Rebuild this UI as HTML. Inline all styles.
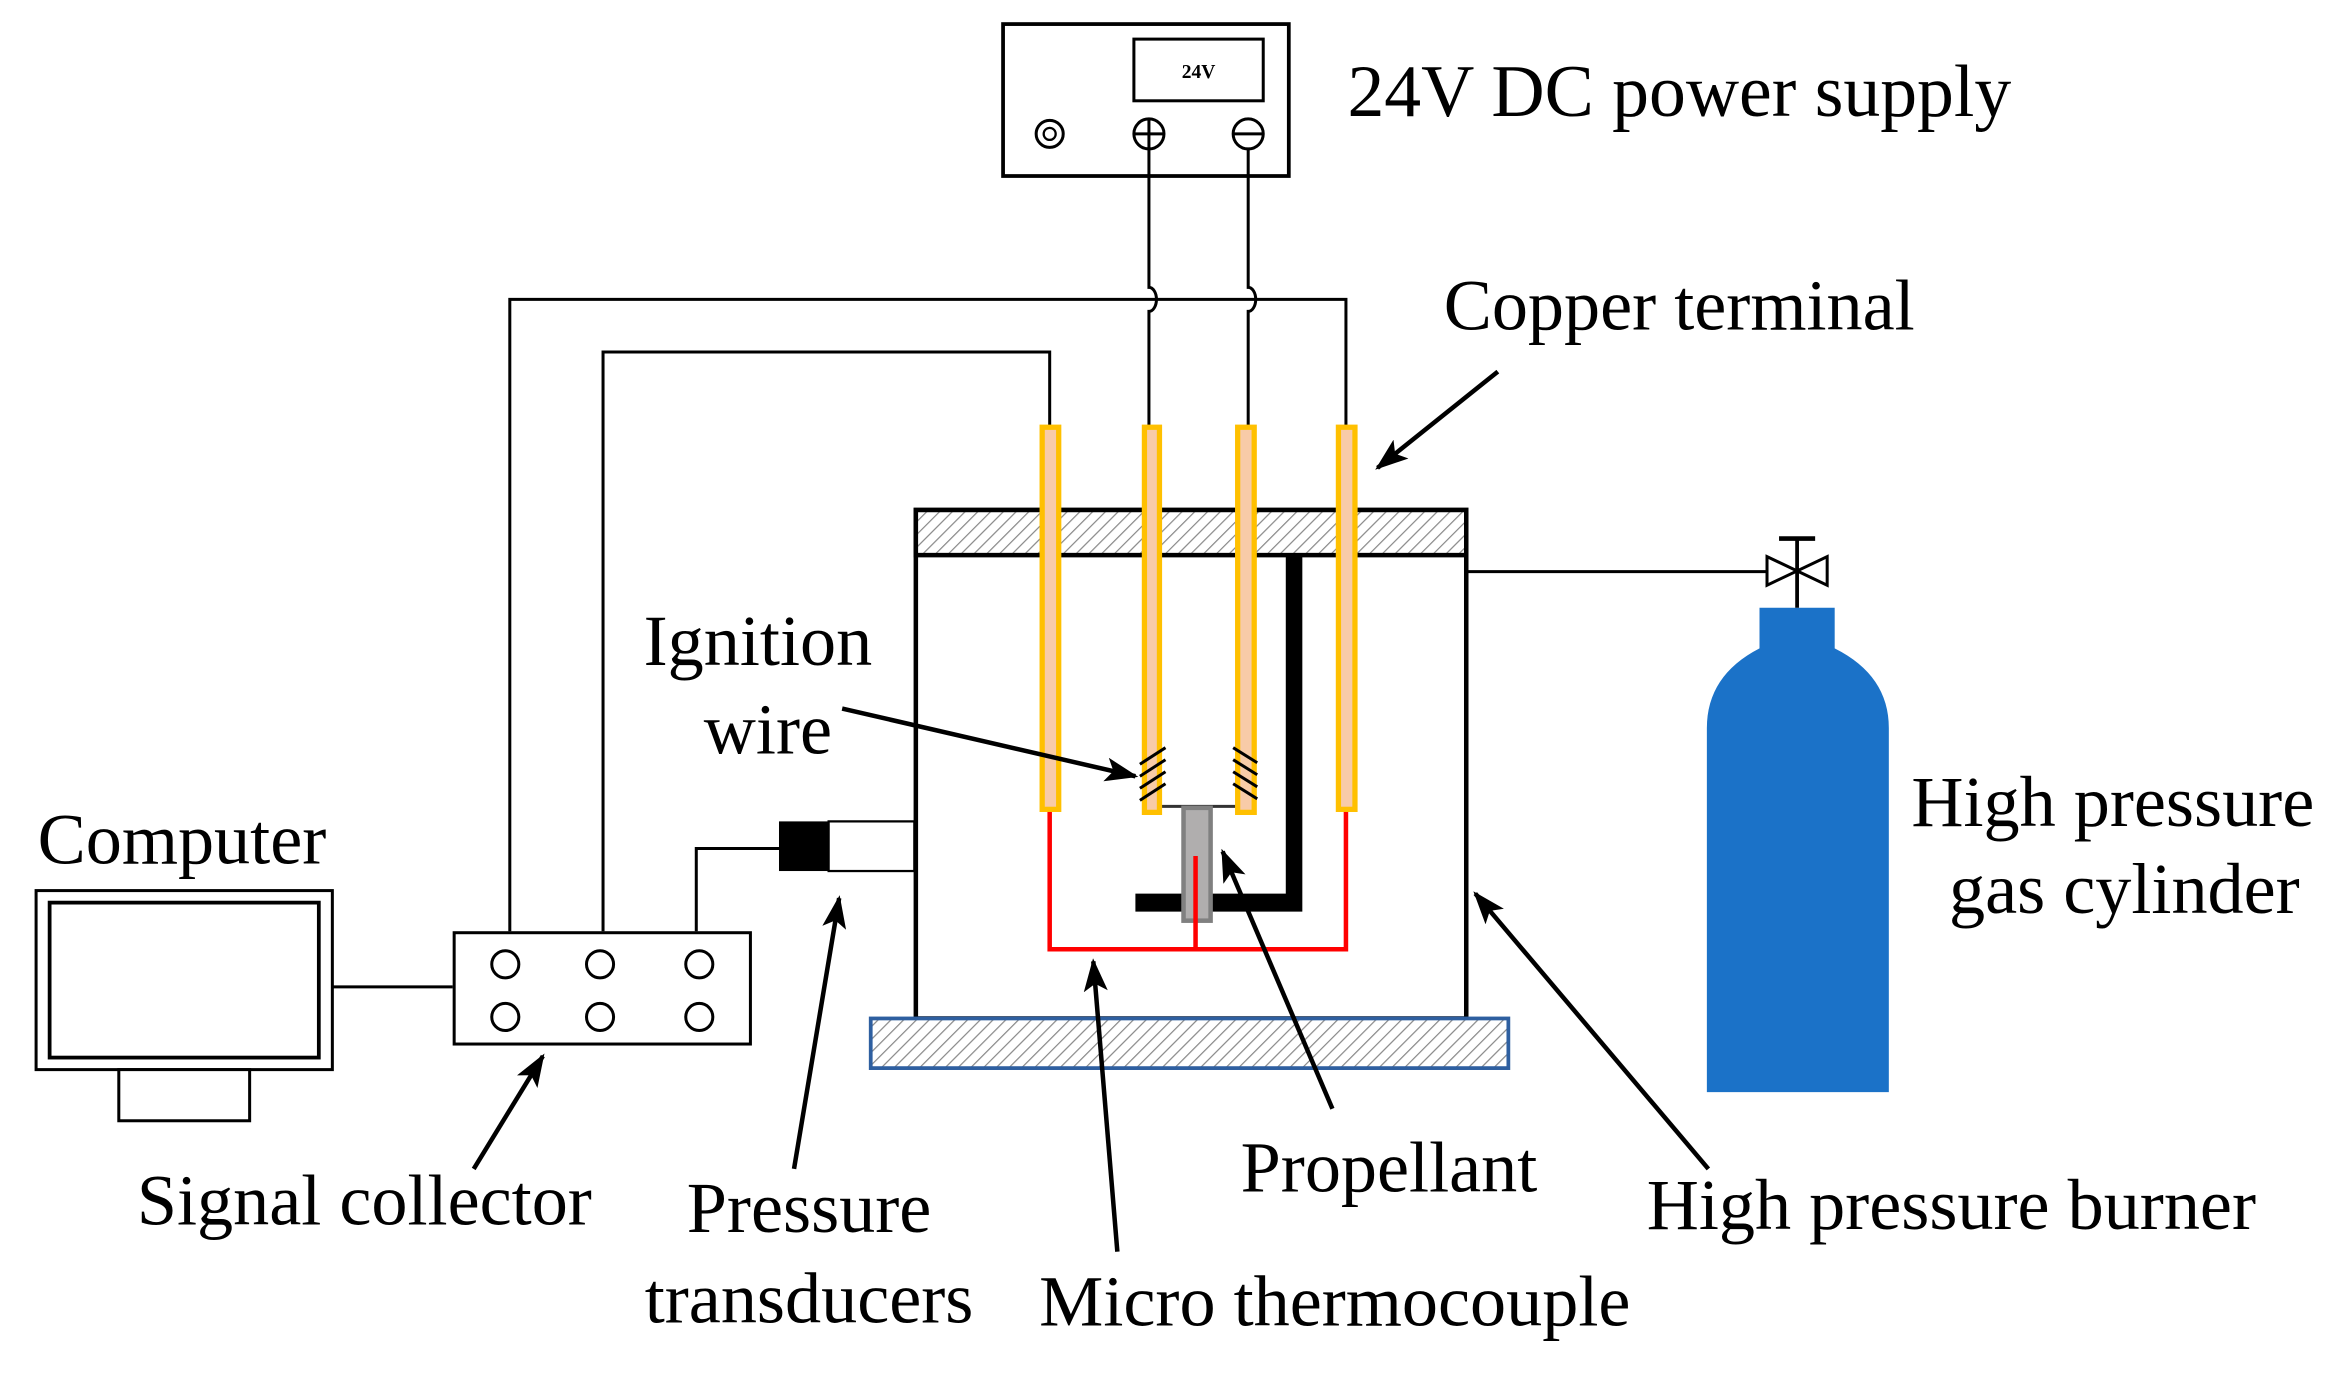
<!DOCTYPE html>
<html><head><meta charset="utf-8"><style>html,body{margin:0;padding:0;background:#fff}svg{display:block}</style></head>
<body>
<svg width="2346" height="1375" viewBox="2 1 1560 914" preserveAspectRatio="none" xmlns="http://www.w3.org/2000/svg" font-family="'Liberation Serif', serif">
<defs>
<pattern id="h" width="6" height="6" patternUnits="userSpaceOnUse" patternTransform="rotate(45)">
<rect width="6" height="6" fill="#fff"/><line x1="0" y1="0" x2="0" y2="6" stroke="#888" stroke-width="1.6"/>
</pattern>
<marker id="b" markerWidth="22" markerHeight="16" refX="20" refY="8" orient="auto" markerUnits="userSpaceOnUse">
<path d="M0,0 L22,8 L0,16 L5,8 z" fill="#000"/></marker>
</defs>
<rect x="669" y="17" width="190" height="101" fill="#fff" stroke="#000" stroke-width="2.5"/>
<rect x="756" y="27" width="86" height="41" fill="#fff" stroke="#000" stroke-width="2"/>
<text x="799" y="53" font-size="13" font-weight="bold" text-anchor="middle">24V</text>
<circle cx="700" cy="90" r="9" fill="none" stroke="#000" stroke-width="2"/><circle cx="700" cy="90" r="4" fill="none" stroke="#000" stroke-width="1.5"/>
<circle cx="766" cy="90" r="10" fill="none" stroke="#000" stroke-width="2"/><line x1="756" y1="90" x2="776" y2="90" stroke="#000" stroke-width="2"/><line x1="766" y1="80" x2="766" y2="100" stroke="#000" stroke-width="2"/>
<circle cx="832" cy="90" r="10" fill="none" stroke="#000" stroke-width="2"/><line x1="822" y1="90" x2="842" y2="90" stroke="#000" stroke-width="2"/>
<text x="898" y="78" font-size="49">24V DC power supply</text>
<g fill="none" stroke="#000" stroke-width="2">
<path d="M766,100 V192 a5,8 0 0 1 0,16 V285"/>
<path d="M832,100 V192 a5,8 0 0 1 0,16 V285"/>
<path d="M341,620 V200 H897 V285"/>
<path d="M403,620 V235 H700 V285"/>
<path d="M520,565 H465 V620"/>
<path d="M223,657 H303"/>
<path d="M977,381 H1180"/>
</g>
<rect x="611" y="340" width="366" height="338" fill="#fff" stroke="#000" stroke-width="3"/>
<rect x="611" y="340" width="366" height="30" fill="url(#h)" stroke="#000" stroke-width="3"/>
<rect x="581" y="678" width="424" height="33" fill="url(#h)" stroke="#2e5fa0" stroke-width="2.5"/>
<path d="M857,371 H868 V607 H757 V595 H857 Z" fill="#000"/>
<line x1="773" y1="537" x2="824" y2="537" stroke="#333" stroke-width="2"/>
<rect x="789" y="538" width="18" height="75" fill="#b0aeae" stroke="#808080" stroke-width="3"/>
<path d="M700,540 V632 H897 V540 M797,570 V632" fill="none" stroke="#ff0000" stroke-width="3"/>
<g fill="#f8cba8" stroke="#ffc000" stroke-width="3.5">
<rect x="695" y="285" width="11" height="254"/>
<rect x="763" y="285" width="10" height="256"/>
<rect x="825" y="285" width="11" height="256"/>
<rect x="892" y="285" width="11" height="254"/>
</g>
<g stroke="#000" stroke-width="2">
<line x1="760" y1="509" x2="777" y2="498"/><line x1="760" y1="517" x2="777" y2="506"/><line x1="760" y1="525" x2="777" y2="514"/><line x1="760" y1="533" x2="777" y2="522"/>
<line x1="822" y1="498" x2="838" y2="508"/><line x1="822" y1="506" x2="838" y2="516"/><line x1="822" y1="514" x2="838" y2="524"/><line x1="822" y1="522" x2="838" y2="532"/>
</g>
<rect x="520" y="547" width="33" height="33" fill="#000"/>
<rect x="553" y="547" width="57" height="33" fill="#fff" stroke="#000" stroke-width="1.5"/>
<rect x="304" y="621" width="197" height="74" fill="#fff" stroke="#000" stroke-width="2"/>
<g fill="none" stroke="#000" stroke-width="2">
<circle cx="338" cy="642" r="9"/><circle cx="401" cy="642" r="9"/><circle cx="467" cy="642" r="9"/>
<circle cx="338" cy="677" r="9"/><circle cx="401" cy="677" r="9"/><circle cx="467" cy="677" r="9"/>
</g>
<rect x="26" y="593" width="197" height="119" fill="#fff" stroke="#000" stroke-width="2"/>
<rect x="35" y="601" width="179" height="103" fill="#fff" stroke="#000" stroke-width="2.5"/>
<rect x="81" y="712" width="87" height="34" fill="#fff" stroke="#000" stroke-width="2"/>
<path d="M1172,405 H1222 V432 Q1258,450 1258,485 V727 H1137 V485 Q1137,450 1172,432 Z" fill="#1b72c8"/>
<line x1="1197" y1="360" x2="1197" y2="405" stroke="#000" stroke-width="2.5"/>
<line x1="1185" y1="359" x2="1209" y2="359" stroke="#000" stroke-width="3"/>
<path d="M1177,371 L1217,390 L1217,371 L1177,390 Z" fill="#fff" stroke="#000" stroke-width="2"/>
<g stroke="#000" stroke-width="3" marker-end="url(#b)">
<line x1="998" y1="248" x2="918" y2="312"/>
<line x1="562" y1="472" x2="757" y2="517"/>
<line x1="317" y1="778" x2="363" y2="703"/>
<line x1="530" y1="778" x2="560" y2="598"/>
<line x1="745" y1="833" x2="729" y2="640"/>
<line x1="888" y1="738" x2="815" y2="567"/>
<line x1="1138" y1="778" x2="983" y2="595"/>
</g>
<g font-size="48" fill="#000">
<text x="962" y="220">Copper terminal</text>
<text x="430" y="443">Ignition</text>
<text x="470" y="502">wire</text>
<text x="27" y="575">Computer</text>
<text x="1273" y="550">High pressure</text>
<text x="1298" y="608">gas cylinder</text>
<text x="93" y="815">Signal collector</text>
<text x="540" y="820" text-anchor="middle">Pressure</text>
<text x="540" y="880" text-anchor="middle">transducers</text>
<text x="827" y="793">Propellant</text>
<text x="1097" y="818">High pressure burner</text>
<text x="693" y="882">Micro thermocouple</text>
</g>
</svg>
</body></html>
